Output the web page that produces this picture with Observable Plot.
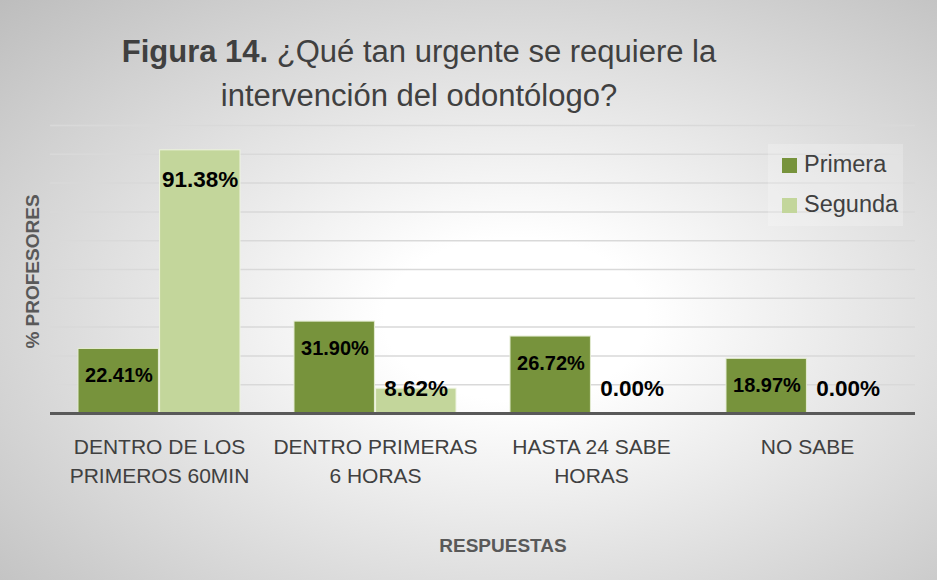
<!DOCTYPE html>
<html>
<head>
<meta charset="utf-8">
<script src="https://cdn.jsdelivr.net/npm/d3@7"></script>
<script src="https://cdn.jsdelivr.net/npm/@observablehq/plot@0.6"></script>
<style>
  html, body { margin: 0; padding: 0; background: #fff; }
  #chart {
    position: relative; width: 937px; height: 580px; overflow: hidden;
    font-family: "Liberation Sans", Arial, sans-serif;
    background: radial-gradient(ellipse farthest-corner at 55% 55%, #ffffff 0%, #ffffff 18%, #bdbdbd 100%);
  }
  #chart svg { position: absolute; left: 0; top: 0; }
  #title {
    position: absolute; left: 0; top: 30px; width: 838px; text-align: center;
    font-size: 31px; line-height: 44px; color: #404040; z-index: 2;
  }
  #title b { font-weight: bold; }
  #legend {
    position: absolute; left: 768px; top: 144px; width: 135px; height: 82px;
    background: rgba(255,255,255,0.22); z-index: 2;
  }
  .item { position: absolute; left: 36px; font-size: 23.5px; line-height: 27px; color: #404040; white-space: nowrap; }
  .sw { position: absolute; left: 14px; width: 15px; height: 15px; }
</style>
</head>
<body>
<div id="chart">
  <div id="title"><b>Figura 14.</b> ¿Qué tan urgente se requiere la<br>intervención del odontólogo?</div>
  <div id="legend"></div>
</div>
<script>
// ---- Data ----
const categorias = ["DENTRO DE LOS\nPRIMEROS 60MIN", "DENTRO PRIMERAS\n6 HORAS", "HASTA 24 SABE\nHORAS", "NO SABE"];
const series = ["Primera", "Segunda"];
const primera = [22.41, 31.90, 26.72, 18.97];
const segunda = [91.38, 8.62, 0.00, 0.00];
const yTicks = [0, 10, 20, 30, 40, 50, 60, 70, 80, 90, 100];
const colores = {"Primera": "#77933c", "Segunda": "#c3d69b"};

const datosPrimera = categorias.map((c, i) => ({cat: c, serie: "Primera", valor: primera[i]}));
const datosSegunda = categorias.map((c, i) => ({cat: c, serie: "Segunda", valor: segunda[i]}));

// ---- Layout ----
const W = 937, H = 580, mL = 50, mR = 22, mT = 125, mB = 167;
const pi = 0.25, po = 0.125;
const step = (W - mL - mR) / (categorias.length - pi + 2 * po);
const half = step * (1 - pi) / 2;
const fmt = d => d.valor.toFixed(2) + "%";
const font = "Liberation Sans, Arial, sans-serif";

const chart = Plot.plot({
  width: W, height: H,
  marginLeft: mL, marginRight: mR, marginTop: mT, marginBottom: mB,
  style: {background: "transparent", fontFamily: font, overflow: "visible"},
  x: {type: "band", domain: categorias, paddingInner: pi, paddingOuter: po, axis: null},
  y: {domain: [0, 100], axis: null},
  marks: [
    Plot.ruleY(yTicks.filter(t => t > 0), {stroke: "#d9d9d9", strokeWidth: 1.5}),
    Plot.barY(datosPrimera, {x: "cat", y: "valor", fill: colores.Primera, stroke: "#e4ecd2", strokeWidth: 1, insetRight: half + 0.5}),
    Plot.barY(datosSegunda, {x: "cat", y: "valor", fill: colores.Segunda, stroke: "#eef4e0", strokeWidth: 1, insetLeft: half + 0.5}),
    Plot.ruleY([0], {stroke: "#595959", strokeWidth: 3}),
    Plot.text(datosPrimera, {x: "cat", y: d => Math.max(d.valor, 18.5), dx: -half / 2, dy: 27, text: fmt,
      fontWeight: "bold", fontSize: 20, fill: "#000", lineAnchor: "middle"}),
    Plot.text(datosSegunda, {x: "cat", y: d => Math.max(d.valor, 18.5), dx: half / 2, dy: 29, text: fmt,
      fontWeight: "bold", fontSize: 22.5, fill: "#000", lineAnchor: "middle"}),
    Plot.axisX({tickSize: 0, tickPadding: 20, fontSize: 21, lineHeight: 1.38, fill: "#404040", label: null, tickFormat: d => d}),
    Plot.text(["RESPUESTAS"], {frameAnchor: "bottom", text: d => d, dx: 20, dy: 132, lineAnchor: "middle",
      fontWeight: "bold", fontSize: 19, fill: "#595959"}),
    Plot.text(["% PROFESORES"], {frameAnchor: "left", text: d => d, rotate: -90, dx: -17.5, dy: 2,
      textAnchor: "middle", lineAnchor: "middle",
      fontWeight: "bold", fontSize: 19, fill: "#595959"})
  ]
});
document.getElementById("chart").appendChild(chart);

// ---- Legend ----
const legend = document.getElementById("legend");
series.forEach((s, i) => {
  const sw = document.createElement("div");
  sw.className = "sw";
  sw.style.top = (14 + i * 40) + "px";
  sw.style.background = colores[s];
  legend.appendChild(sw);
  const t = document.createElement("div");
  t.className = "item";
  t.style.top = (7.4 + i * 40) + "px";
  t.textContent = s;
  legend.appendChild(t);
});
</script>
</body>
</html>
